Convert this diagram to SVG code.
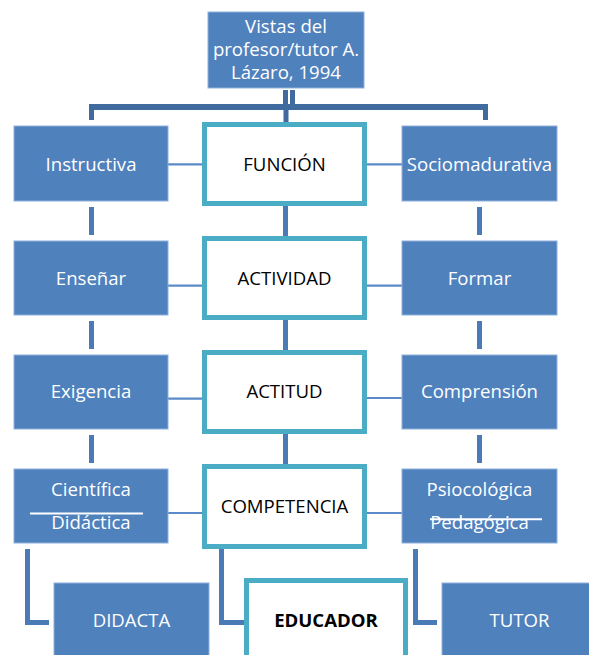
<svg xmlns="http://www.w3.org/2000/svg" width="589" height="655" viewBox="0 0 589 655">
<style>
.box{fill:#4F81BD;stroke:#8FB1DD;stroke-width:1}
.out{fill:#FFFFFF;stroke:#4BACC6;stroke-width:5}
.wt{fill:#FFFFFF;font-family:"Open Sans","Liberation Sans",sans-serif;font-size:18.6px;text-anchor:middle}
.bt{fill:#000000;font-family:"Open Sans","Liberation Sans",sans-serif;font-size:18.6px;text-anchor:middle}
.tree{fill:#3F6B9E}
.v{fill:#4A7BB7}
.h{stroke:#5A8BC8;stroke-width:2.2}
</style>
<rect width="589" height="655" fill="#FFFFFF"/>
<g id="connectors">
<rect class="tree" x="283" y="90" width="5" height="20"/>
<rect class="tree" x="290" y="90" width="5" height="20"/>
<rect class="tree" x="89" y="104" width="399" height="6"/>
<rect class="tree" x="89" y="104" width="5" height="16"/>
<rect class="tree" x="283.5" y="104" width="5" height="19"/>
<rect class="tree" x="483" y="104" width="5" height="16"/>
<rect class="v" x="89" y="207" width="5" height="28"/>
<rect class="v" x="89" y="321" width="5" height="28"/>
<rect class="v" x="89" y="435" width="5" height="28"/>
<rect class="v" x="283" y="205" width="5" height="32"/>
<rect class="v" x="283" y="319" width="5" height="32"/>
<rect class="v" x="283" y="433" width="5" height="32"/>
<rect class="v" x="477" y="207" width="5" height="28"/>
<rect class="v" x="477" y="321" width="5" height="28"/>
<rect class="v" x="477" y="435" width="5" height="28"/>
<path class="v" d="M25 549H30V620H49V625H25Z"/>
<path class="v" d="M219 549H224V620H245V625H219Z"/>
<path class="v" d="M413 549H418V620H437V625H413Z"/>
<line class="h" x1="168" y1="164.3" x2="203" y2="164.3"/>
<line class="h" x1="366" y1="164.3" x2="402" y2="164.3"/>
<line class="h" x1="168" y1="285.7" x2="203" y2="285.7"/>
<line class="h" x1="366" y1="285.7" x2="402" y2="285.7"/>
<line class="h" x1="168" y1="398.7" x2="203" y2="398.7"/>
<line class="h" x1="366" y1="398" x2="402" y2="398"/>
<line class="h" x1="162" y1="513" x2="203" y2="513"/>
<line class="h" x1="366" y1="513" x2="410" y2="513"/>
</g>
<g id="root">
<rect class="box" x="208" y="12" width="156" height="76"/>
<text class="wt" x="286" y="33">Vistas del</text>
<text class="wt" x="286" y="56">profesor/tutor A.</text>
<text class="wt" x="286" y="79">Lázaro, 1994</text>
</g>
<g id="instructiva"><rect class="box" x="14" y="126" width="154" height="75"/><text class="wt" x="91" y="171">Instructiva</text></g>
<g id="funcion"><rect class="out" x="204.5" y="124.5" width="160" height="79"/><text class="bt" x="284.5" y="171">FUNCIÓN</text></g>
<g id="sociomadurativa"><rect class="box" x="402" y="126" width="155" height="75"/><text class="wt" x="479.5" y="171">Sociomadurativa</text></g>
<g id="ensenar"><rect class="box" x="14" y="241" width="154" height="74"/><text class="wt" x="91" y="285">Enseñar</text></g>
<g id="actividad"><rect class="out" x="204.5" y="238.5" width="160" height="79"/><text class="bt" x="284.5" y="285">ACTIVIDAD</text></g>
<g id="formar"><rect class="box" x="402" y="241" width="155" height="74"/><text class="wt" x="479.5" y="285">Formar</text></g>
<g id="exigencia"><rect class="box" x="14" y="355" width="154" height="74"/><text class="wt" x="91" y="398">Exigencia</text></g>
<g id="actitud"><rect class="out" x="204.5" y="352.5" width="160" height="79"/><text class="bt" x="284.5" y="398">ACTITUD</text></g>
<g id="comprension"><rect class="box" x="402" y="355" width="155" height="74"/><text class="wt" x="479.5" y="398">Comprensión</text></g>
<g id="cientifica">
<rect class="box" x="14" y="469" width="154" height="74"/>
<text class="wt" x="91" y="496">Científica</text>
<text class="wt" x="91" y="529">Didáctica</text>
<line x1="30" y1="513.5" x2="143" y2="513.5" stroke="#FFFFFF" stroke-width="2"/>
</g>
<g id="competencia"><rect class="out" x="204.5" y="466.5" width="160" height="80"/><text class="bt" x="284.5" y="513">COMPETENCIA</text></g>
<g id="psicologica">
<rect class="box" x="402" y="469" width="155" height="74"/>
<text class="wt" x="479.5" y="496">Psiocológica</text>
<text class="wt" x="479.5" y="529">Pedagógica</text>
<line x1="430" y1="519.3" x2="542" y2="519.3" stroke="#FFFFFF" stroke-width="2"/>
</g>
<g id="didacta"><rect class="box" x="54" y="583" width="155" height="80"/><text class="wt" x="131.5" y="627">DIDACTA</text></g>
<g id="educador"><rect class="out" x="246.5" y="580.5" width="159" height="90"/><text class="bt" x="326" y="627" font-weight="bold">EDUCADOR</text></g>
<g id="tutor"><rect class="box" x="442" y="583" width="155" height="80"/><text class="wt" x="519.5" y="627">TUTOR</text></g>
</svg>
